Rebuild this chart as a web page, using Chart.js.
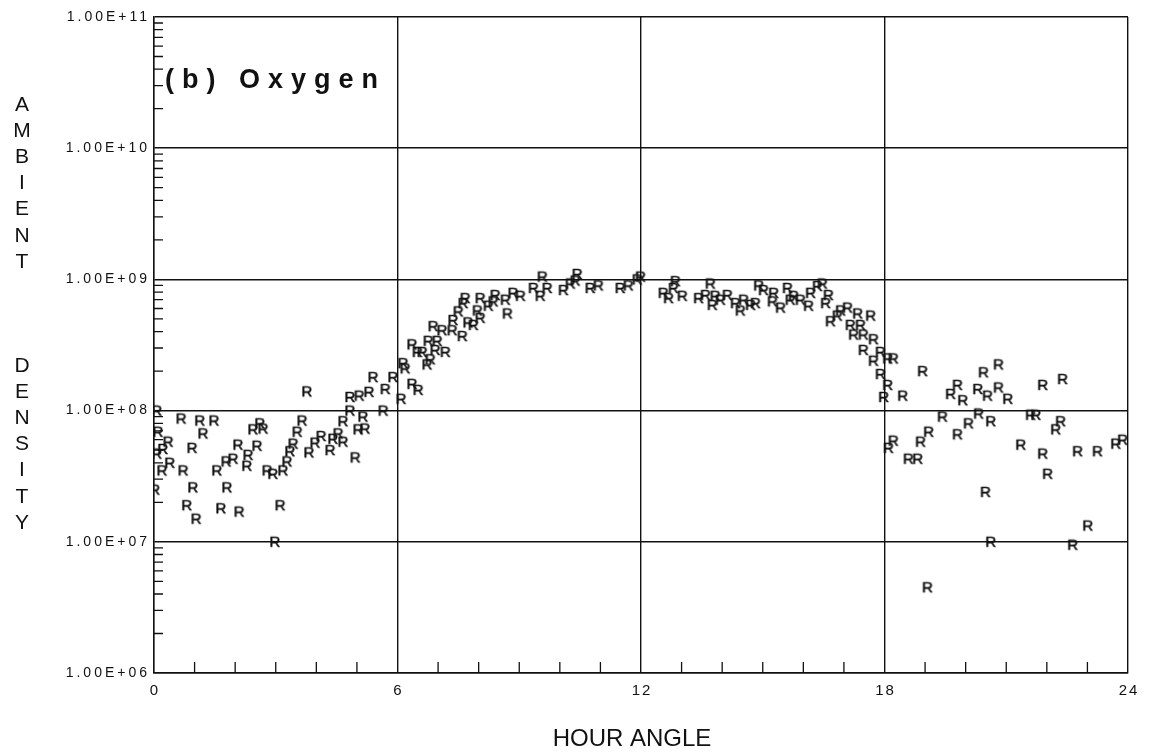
<!DOCTYPE html>
<html>
<head>
<meta charset="utf-8">
<script src="https://cdn.jsdelivr.net/npm/chart.js@4.4.1/dist/chart.umd.min.js"></script>
<style>
  body { margin: 0; background: #fff; }
</style>
</head>
<body>
<canvas id="chart" width="1152" height="752"></canvas>
<script>
// data (hour angle, ambient density)
const hourAngle = [
  0.07, 0.67, 1.13, 1.48, 1.21, 0.35, 0.22, 0.39, 0.20, 0.72, 0.94, 0.02, 0.96, 0.81, 1.04, 1.55, 1.80, 1.65, 2.10, 1.78,
  1.95, 2.07, 2.32, 2.29, 2.54, 2.44, 2.61, 2.69, 2.79, 2.93, 3.18, 3.11, 2.98, 3.77, 3.65, 3.53, 3.43, 3.35, 3.28, 3.82,
  3.97, 4.12, 4.34, 4.41, 4.54, 4.66, 4.66, 4.83, 4.83, 5.06, 5.30, 5.15, 5.03, 5.20, 4.96, 5.40, 5.65, 5.70, 5.89, 0.07,
  0.10,
  6.09, 6.36, 6.51, 6.19, 6.14, 6.36, 6.49, 6.61, 6.73, 6.81, 6.76, 6.98, 6.93, 7.18, 6.88, 7.10, 7.35, 7.60, 7.37, 7.50,
  7.62, 7.67, 7.74, 7.87, 8.04, 7.97, 8.04, 8.24, 8.36, 8.41, 8.66, 8.71, 8.85, 9.03, 9.35, 9.52, 9.57, 9.69, 10.09, 10.26,
  10.38, 10.43, 10.75, 10.95, 11.49, 11.69, 11.91,
  11.99, 12.55, 12.80, 12.85, 13.02, 12.68, 13.71, 13.42, 13.59, 13.76, 13.83, 13.96, 14.13, 14.33, 14.45, 14.53, 14.70, 14.82, 14.90, 15.02,
  15.24, 15.27, 15.44, 15.61, 15.68, 15.76, 15.93, 16.13, 16.18, 16.35, 16.47, 16.55, 16.62, 16.67, 16.84, 16.92, 17.09, 17.16, 17.34, 17.41,
  17.66, 17.24, 17.48, 17.73, 17.48, 17.73, 17.90, 18.08, 17.90, 18.08, 17.98,
  18.22, 18.45, 18.94, 19.63, 19.80, 19.93, 20.44, 20.81, 20.30, 20.54, 20.81, 21.04, 21.90, 22.39,
  18.10, 18.22, 18.59, 18.82, 18.89, 19.09, 19.43, 19.80, 20.07, 20.32, 20.62, 21.36, 21.60, 21.73, 21.90, 22.22, 22.34, 22.02, 22.76, 23.25,
  23.70, 23.87, 20.49, 23.01, 20.62, 22.64, 19.06
];
const density = [
  1.0e8, 8.7e7, 8.4e7, 8.4e7, 6.7e7, 5.8e7, 5.1e7, 4.0e7, 3.5e7, 3.5e7, 5.2e7, 2.5e7, 2.6e7, 1.9e7, 1.5e7, 3.5e7, 2.6e7, 1.8e7, 1.7e7, 4.1e7,
  4.3e7, 5.5e7, 4.6e7, 3.8e7, 5.4e7, 7.2e7, 8.0e7, 7.3e7, 3.5e7, 3.3e7, 3.5e7, 1.9e7, 1.0e7, 1.4e8, 8.4e7, 6.9e7, 5.6e7, 4.9e7, 4.1e7, 4.8e7,
  5.7e7, 6.4e7, 5.0e7, 6.1e7, 6.7e7, 5.8e7, 8.3e7, 1.0e8, 1.27e8, 1.3e8, 1.39e8, 9.0e7, 7.2e7, 7.3e7, 4.4e7, 1.8e8, 1.0e8, 1.46e8, 1.8e8, 4.7e7,
  6.9e7,
  1.23e8, 1.6e8, 1.44e8, 2.1e8, 2.3e8, 3.2e8, 2.8e8, 2.8e8, 2.25e8, 2.46e8, 3.4e8, 3.4e8, 2.9e8, 2.8e8, 4.4e8, 4.1e8, 4.1e8, 3.7e8, 4.9e8, 5.7e8,
  6.6e8, 7.2e8, 4.7e8, 4.5e8, 5.1e8, 5.8e8, 7.2e8, 6.3e8, 6.8e8, 7.6e8, 7.0e8, 5.5e8, 7.9e8, 7.5e8, 8.6e8, 7.5e8, 1.05e9, 8.6e8, 8.3e8, 9.3e8,
  9.8e8, 1.1e9, 8.6e8, 9.0e8, 8.6e8, 9.0e8, 1.0e9,
  1.05e9, 7.9e8, 8.6e8, 9.7e8, 7.5e8, 7.2e8, 9.3e8, 7.2e8, 7.6e8, 6.4e8, 7.5e8, 7.0e8, 7.6e8, 6.6e8, 5.8e8, 7.0e8, 6.4e8, 6.6e8, 9.0e8, 8.3e8,
  6.8e8, 7.9e8, 6.1e8, 8.6e8, 7.0e8, 7.5e8, 7.0e8, 6.3e8, 7.9e8, 8.9e8, 9.3e8, 6.6e8, 7.6e8, 4.8e8, 5.3e8, 5.8e8, 6.1e8, 4.5e8, 5.5e8, 4.5e8,
  5.3e8, 3.8e8, 3.8e8, 3.5e8, 2.9e8, 2.4e8, 2.8e8, 2.5e8, 1.9e8, 1.57e8, 1.27e8,
  2.5e8, 1.3e8, 2.0e8, 1.34e8, 1.57e8, 1.2e8, 1.96e8, 2.25e8, 1.46e8, 1.3e8, 1.5e8, 1.23e8, 1.57e8, 1.74e8,
  5.2e7, 5.9e7, 4.3e7, 4.3e7, 5.8e7, 6.9e7, 9.0e7, 6.6e7, 8.0e7, 9.5e7, 8.3e7, 5.5e7, 9.3e7, 9.3e7, 4.7e7, 7.2e7, 8.3e7, 3.3e7, 4.9e7, 4.9e7,
  5.6e7, 6.0e7, 2.4e7, 1.33e7, 1.0e7, 9.5e6, 4.5e6
];
const majorHours = [0, 6, 12, 18, 24];
const decades = [6, 7, 8, 9, 10, 11];

const ink = '#111';

// the plotted symbol is the letter R
const rMark = document.createElement('canvas');
rMark.width = 16;
rMark.height = 16;
(function() {
  const c = rMark.getContext('2d');
  c.fillStyle = ink;
  c.strokeStyle = ink;
  c.lineWidth = 0.5;
  c.font = '15px "Liberation Sans"';
  c.textAlign = 'center';
  c.textBaseline = 'alphabetic';
  c.fillText('R', 8, 13);
  c.strokeText('R', 8, 13);
})();

const decorations = {
  id: 'decorations',
  afterDraw(chart) {
    const ctx = chart.ctx;
    const area = chart.chartArea;
    const xs = chart.scales.x;
    const ys = chart.scales.y;
    ctx.save();
    ctx.strokeStyle = ink;
    ctx.fillStyle = ink;
    ctx.lineWidth = 1.3;

    // minor ticks, drawn inward
    ctx.beginPath();
    for (let h = 1; h < 24; h++) {
      if (h % 6 === 0) continue;
      const px = xs.getPixelForValue(h);
      ctx.moveTo(px, area.bottom);
      ctx.lineTo(px, area.bottom - 11);
    }
    for (let d = 6; d < 11; d++) {
      for (let m = 2; m <= 9; m++) {
        const py = ys.getPixelForValue(m * Math.pow(10, d));
        ctx.moveTo(area.left, py);
        ctx.lineTo(area.left + 9, py);
      }
    }
    ctx.stroke();

    // y tick labels
    ctx.font = '14px "Liberation Sans"';
    ctx.letterSpacing = '3px';
    ctx.textAlign = 'right';
    ctx.textBaseline = 'middle';
    decades.forEach(d => {
      const py = ys.getPixelForValue(Math.pow(10, d));
      ctx.fillText('1.00E+' + String(d).padStart(2, '0'), area.left - 4, py);
    });

    // x tick labels
    ctx.font = '15px "Liberation Sans"';
    ctx.letterSpacing = '2px';
    ctx.textAlign = 'center';
    majorHours.forEach(h => {
      ctx.fillText(String(h), xs.getPixelForValue(h) + 1, area.bottom + 18);
    });

    // axis titles
    ctx.letterSpacing = '0px';
    ctx.font = '24px "Liberation Sans"';
    ctx.textBaseline = 'alphabetic';
    ctx.fillText('HOUR ANGLE', 632, 746);

    ctx.font = '21px "Liberation Sans"';
    const rows = 'AMBIENT   DENSITY'.split('');
    rows.forEach((ch, i) => {
      if (ch !== ' ') ctx.fillText(ch, 22, 111 + i * 26.1);
    });

    // panel label
    ctx.font = 'bold 27px "Liberation Sans"';
    ctx.letterSpacing = '8px';
    ctx.textAlign = 'left';
    ctx.fillText('(b) Oxygen', area.left + 11, 88);
    ctx.restore();
  }
};

const points = hourAngle.map((h, i) => ({ x: h, y: density[i] }));

new Chart(document.getElementById('chart'), {
  type: 'scatter',
  data: {
    datasets: [{
      label: 'Oxygen',
      data: points,
      pointStyle: rMark,
      pointRadius: 6,
      pointHoverRadius: 6
    }]
  },
  options: {
    responsive: false,
    animation: false,
    events: [],
    layout: { padding: { left: 154, right: 24, top: 17, bottom: 79 } },
    plugins: {
      legend: { display: false },
      tooltip: { enabled: false }
    },
    scales: {
      x: {
        type: 'linear',
        min: 0,
        max: 24,
        ticks: { display: false, stepSize: 1 },
        grid: {
          drawTicks: false,
          lineWidth: 1.4,
          color: c => (c.tick && c.tick.value % 6 === 0) ? ink : 'rgba(0,0,0,0)'
        },
        border: { display: true, color: ink, width: 1.4 }
      },
      y: {
        type: 'logarithmic',
        min: 1e6,
        max: 1e11,
        afterBuildTicks: scale => {
          scale.ticks = decades.map(d => ({ value: Math.pow(10, d) }));
        },
        ticks: { display: false },
        grid: { drawTicks: false, lineWidth: 1.4, color: ink },
        border: { display: true, color: ink, width: 1.4 }
      }
    }
  },
  plugins: [decorations]
});
</script>
</body>
</html>
